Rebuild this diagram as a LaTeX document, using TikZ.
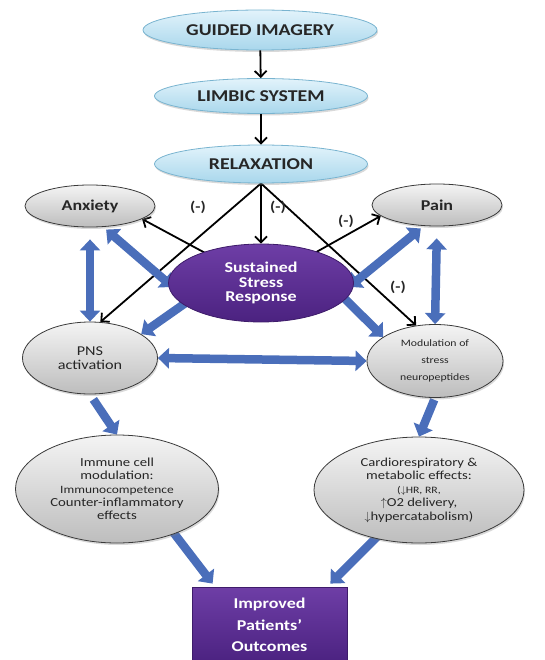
\documentclass[tikz,border=0pt]{standalone}
\usepackage{fontspec}
\setmainfont[FakeStretch=1.2]{Carlito}
\usetikzlibrary{shapes.geometric,arrows.meta,backgrounds,shadows}

\definecolor{skytop}{HTML}{E2F3FB}
\definecolor{skybot}{HTML}{A9D7EC}
\definecolor{skyline}{HTML}{79B4D0}
\definecolor{greytop}{HTML}{F4F4F4}
\definecolor{greybot}{HTML}{BDBDBD}
\definecolor{greyline}{HTML}{3A3A3A}
\definecolor{purptop}{HTML}{6E3EA6}
\definecolor{purpbot}{HTML}{4B2280}
\definecolor{purpline}{HTML}{3E1C6A}
\definecolor{fatblue}{HTML}{4A6EBA}
\definecolor{txtdark}{HTML}{262626}

\tikzset{
  topbox/.style={ellipse, draw=skyline, line width=0.8pt, top color=skytop,
    bottom color=skybot, text=txtdark, inner sep=0pt,
    font=\bfseries\fontsize{16.5}{18}\selectfont,
    drop shadow={shadow xshift=1pt, shadow yshift=-2pt, opacity=0.3}},
  effectbox/.style={ellipse, draw=greyline, line width=0.8pt, top color=greytop,
    bottom color=greybot, text=txtdark, align=center, inner sep=0pt,
    drop shadow={shadow xshift=1pt, shadow yshift=-2pt, opacity=0.3}},
  stressbox/.style={ellipse, draw=purpline, line width=0.8pt, top color=purptop,
    bottom color=purpbot, text=white, align=center, inner sep=0pt,
    font=\bfseries\fontsize{15}{14.5}\selectfont},
  outbox/.style={rectangle, draw=purpline, line width=0.8pt, top color=purptop,
    bottom color=purpbot, text=white, align=center, inner sep=0pt,
    font=\bfseries\fontsize{15}{21.5}\selectfont},
  thinarrow/.style={-{Straight Barb[length=6pt,width=12pt]}, line width=1.8pt, black},
  fatarrow/.style={line width=8.5pt, draw=fatblue, -{Triangle[length=11pt,width=20pt]}},
  fatboth/.style={fatarrow, {Triangle[length=11pt,width=20pt]}-{Triangle[length=11pt,width=20pt]}},
  minus/.style={font=\bfseries\fontsize{14}{16}\selectfont, text=txtdark}
}

\begin{document}
\begin{tikzpicture}[x=1pt, y=-1pt]
  \useasboundingbox (0, 0) rectangle (544, 660);
  % top chain
  \node[topbox, minimum width=234pt, minimum height=40pt] (gi) at (260, 30) {GUIDED IMAGERY};
  \node[topbox, minimum width=213pt, minimum height=35pt] (limbic) at (261, 96) {LIMBIC SYSTEM};
  \node[topbox, minimum width=213pt, minimum height=38pt] (relax) at (261, 164) {RELAXATION};
  \draw[thinarrow] (gi) -- (limbic);
  \draw[thinarrow] (limbic) -- (relax);
  % middle ring
  \node[effectbox, minimum width=130pt, minimum height=42pt,
    font=\bfseries\fontsize{15}{17}\selectfont] (anx) at (90, 206) {Anxiety};
  \node[effectbox, minimum width=130pt, minimum height=42pt,
    font=\bfseries\fontsize{15}{17}\selectfont] (pain) at (437, 205) {Pain};
  \node[stressbox, minimum width=185pt, minimum height=78pt] (ssr) at (261, 283)
    {Sustained\\Stress\\Response};
  \node[effectbox, minimum width=135pt, minimum height=72pt,
    font=\fontsize{13.5}{13.5}\selectfont] (pns) at (90, 358) {PNS\\activation};
  \node[effectbox, minimum width=136pt, minimum height=73pt,
    font=\fontsize{9.8}{17}\selectfont] (mod) at (435, 361)
    {Modulation of\\stress\\neuropeptides};
  % effects
  \node[effectbox, minimum width=203pt, minimum height=108pt,
    font=\fontsize{12.3}{13.3}\selectfont] (imm) at (117, 489)
    {Immune cell\\modulation:\\\fontsize{11.2}{13.3}\selectfont Immunocompetence\\Counter-inflammatory\\effects};
  \node[effectbox, minimum width=210pt, minimum height=106pt,
    font=\fontsize{12.2}{13.5}\selectfont] (card) at (419, 490)
    {Cardiorespiratory \&\\metabolic effects:\\\fontsize{9.8}{13.5}\selectfont($\downarrow$HR, RR,\\$\uparrow$O2 delivery,\\$\downarrow$hypercatabolism)};
  % outcome
  \node[outbox, minimum width=155pt, minimum height=76pt] (out) at (269.5, 625)
    {Improved\\Patients'\\Outcomes};
  % (-) labels
  \node[minus] (neg1) at (198, 207) {(-)};
  \node[minus] (neg2) at (278, 207) {(-)};
  \node[minus] (neg3) at (346, 221) {(-)};
  \node[minus] (neg4) at (398, 287) {(-)};
  \begin{pgfonlayer}{background}
    % black arrows
    \draw[thinarrow] (relax.south) -- (ssr.north);
    \draw[thinarrow] (relax.south) -- (pns.74);
    \draw[thinarrow] (relax.south) -- (mod.118);
    \draw[thinarrow] (ssr.center) -- (anx.-14);
    \draw[thinarrow] (ssr.center) -- (pain.191);
    % blue arrows
    \draw[fatboth, shorten <=12pt] (anx.south) -- (pns.north);
    \draw[fatboth, shorten <=12pt] (pain.south) -- (mod.north);
    \draw[fatboth, shorten <=4pt, shorten >=-6pt] (anx.-58) -- (ssr.west);
    \draw[fatboth, shorten <=4pt, shorten >=-6pt] (pain.-122) -- (ssr.east);
    \draw[fatarrow] ([xshift=-47pt]ssr.center) -- (pns.25);
    \draw[fatarrow] ([xshift=68pt]ssr.center) -- (mod.155);
    \draw[fatboth] (pns.east) -- (mod.west);
    \draw[fatarrow, shorten <=6pt] (pns.south) -- (imm.north);
    \draw[fatarrow, shorten <=2pt] (mod.south) -- (card.north);
    \draw[fatarrow, shorten <=-8pt] (imm.-38) -- ([xshift=21pt, yshift=3pt]out.north west);
    \draw[fatarrow, shorten <=-8pt] (card.-132) -- ([xshift=-17pt, yshift=3pt]out.north east);
  \end{pgfonlayer}
\end{tikzpicture}
\end{document}
